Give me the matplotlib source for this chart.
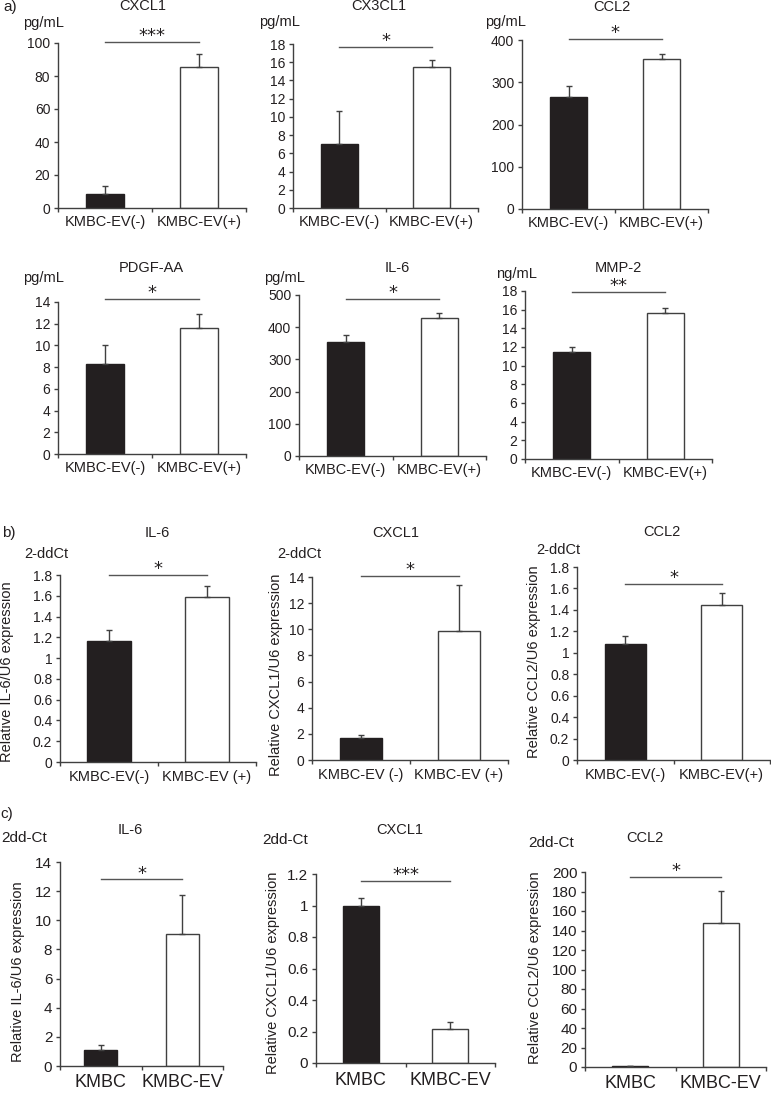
import numpy as np
import matplotlib
matplotlib.use("Agg")
import matplotlib.pyplot as plt
from matplotlib.ticker import FuncFormatter

plt.rcParams['font.family'] = ['Liberation Sans', 'DejaVu Sans']

W, H = 771, 1093

# ---- data ----
groups_ev = ['KMBC-EV(-)', 'KMBC-EV(+)']
groups_ev_sp = ['KMBC-EV(-)', 'KMBC-EV (+)']
groups_ev_sp2 = ['KMBC-EV (-)', 'KMBC-EV (+)']
groups_cell = ['KMBC', 'KMBC-EV']

a_cxcl1 = [8.5, 85.6]
a_cxcl1_err = [5.0, 8.0]
a_cx3cl1 = [7.0, 15.5]
a_cx3cl1_err = [3.7, 0.7]
a_ccl2 = [265, 354]
a_ccl2_err = [25, 14]
a_pdgf = [8.25, 11.6]
a_pdgf_err = [1.75, 1.3]
a_il6 = [354, 428]
a_il6_err = [23, 17]
a_mmp2 = [11.45, 15.6]
a_mmp2_err = [0.5, 0.55]

b_il6 = [1.165, 1.59]
b_il6_err = [0.105, 0.10]
b_cxcl1 = [1.68, 9.85]
b_cxcl1_err = [0.22, 3.55]
b_ccl2 = [1.08, 1.445]
b_ccl2_err = [0.075, 0.115]

c_il6 = [1.1, 9.09]
c_il6_err = [0.34, 2.67]
c_cxcl1 = [1.0, 0.214]
c_cxcl1_err = [0.05, 0.048]
c_ccl2 = [1.0, 148]
c_ccl2_err = [0.0, 33]

BLACK = '#231f20'
EDGE = '#404040'
SIG = '#555555'
FS = 10.5

fig = plt.figure(figsize=(W / 100, H / 100), dpi=100)


def ftext(x, y, s, fontsize=FS, **kw):
    fig.text(x / W, 1 - y / H, s, ha='center', va='center', color=BLACK,
             fontsize=fontsize, **kw)


def draw_panel(box, vals, errs, groups, ymax, ystep, sig_y, stars,
               width=0.4, tick_fs=10, xlab_fs=10.5, xlab_pad=5):
    left, top, right, bottom = box
    ax = fig.add_axes([left / W, 1 - bottom / H, (right - left) / W, (bottom - top) / H])
    ax.patch.set_alpha(0)
    x = [0.5, 1.5]
    ax.bar(x, vals, width=width, color=[BLACK, 'white'], edgecolor=[BLACK, EDGE],
           linewidth=1.0, zorder=2)
    ax.errorbar(x, vals, yerr=[[0, 0], errs], fmt='none', ecolor=EDGE,
                elinewidth=1, capsize=2.2, capthick=1, zorder=3)
    ax.set_xlim(0, 2)
    ax.set_ylim(0, ymax)
    ax.set_yticks(np.arange(0, ymax + ystep / 2, ystep))
    ax.yaxis.set_major_formatter(FuncFormatter(lambda v, p: f'{v:g}'))
    ax.set_xticks([0, 1, 2])
    ax.set_xticklabels([])
    ax.set_xticks(x, minor=True)
    ax.set_xticklabels(groups, minor=True, fontsize=xlab_fs, color=BLACK)
    ax.tick_params(axis='x', which='minor', length=0, pad=xlab_pad)
    ax.tick_params(axis='x', which='major', length=3, width=1, color=EDGE, direction='out')
    ax.tick_params(axis='y', length=3, width=1, color=EDGE, labelsize=tick_fs,
                   labelcolor=BLACK, pad=2.5)
    for s in ['top', 'right']:
        ax.spines[s].set_visible(False)
    for s in ['left', 'bottom']:
        ax.spines[s].set_color(EDGE)
        ax.spines[s].set_linewidth(1)
    ax.plot([0.5, 1.5], [sig_y, sig_y], color=SIG, lw=1, clip_on=False)
    ax.annotate(stars, (1.0, sig_y), xytext=(0, 0.5), textcoords='offset points',
                ha='center', va='baseline', fontsize=13, color=BLACK,
                family='DejaVu Sans', annotation_clip=False)
    return ax


# ---- a) top row ----
draw_panel((58, 43, 246, 208), a_cxcl1, a_cxcl1_err, groups_ev, 100, 20, 100.5, '***')
draw_panel((293, 44, 478, 208), a_cx3cl1, a_cx3cl1_err, groups_ev, 18, 2, 17.7, '*')
draw_panel((522, 40, 708, 209), a_ccl2, a_ccl2_err, groups_ev, 400, 100, 402, '*')
ftext(10, 7, 'a)', fontsize=11)
ftext(143, 6, 'CXCL1')
ftext(379, 6, 'CX3CL1')
ftext(612, 7, 'CCL2')
ftext(43, 23, 'pg/mL')
ftext(279, 22, 'pg/mL')
ftext(505, 22, 'pg/mL')

# ---- a) second row ----
draw_panel((58, 302, 246, 454), a_pdgf, a_pdgf_err, groups_ev, 14, 2, 14.3, '*')
draw_panel((299, 295, 486, 456), a_il6, a_il6_err, groups_ev, 500, 100, 487, '*')
draw_panel((525, 291, 712, 459), a_mmp2, a_mmp2_err, groups_ev, 18, 2, 17.9, '**')
ftext(151, 268, 'PDGF-AA')
ftext(397, 268, 'IL-6')
ftext(618, 268, 'MMP-2')
ftext(43, 278, 'pg/mL')
ftext(284, 278, 'pg/mL')
ftext(516, 274, 'ng/mL')

# ---- b) ----
draw_panel((60, 575, 256, 762), b_il6, b_il6_err, groups_ev_sp, 1.8, 0.2, 1.8, '*',
           width=0.45, xlab_pad=6)
draw_panel((312, 577, 508, 760), b_cxcl1, b_cxcl1_err, groups_ev_sp2, 14, 2, 14.1, '*',
           width=0.42, xlab_pad=6)
draw_panel((577, 567, 770, 760), b_ccl2, b_ccl2_err, groups_ev, 1.8, 0.2, 1.64, '*',
           width=0.42, xlab_pad=6)
ftext(9, 533, 'b)', fontsize=11)
ftext(157, 533, 'IL-6')
ftext(396, 533, 'CXCL1')
ftext(662, 532, 'CCL2')
ftext(46, 554, '2-ddCt')
ftext(299, 554, '2-ddCt')
ftext(558, 550, '2-ddCt')
ftext(7, 672, 'Relative IL-6/U6 expression', fontsize=10.5, rotation=90)
ftext(276, 675, 'Relative CXCL1/U6 expression', fontsize=10.5, rotation=90)
ftext(534, 662, 'Relative CCL2/U6 expression', fontsize=10.5, rotation=90)

# ---- c) ----
draw_panel((60, 862, 223, 1066), c_il6, c_il6_err, groups_cell, 14, 2, 12.8, '*',
           tick_fs=11, xlab_fs=13, xlab_pad=6)
draw_panel((316, 874, 495, 1063), c_cxcl1, c_cxcl1_err, groups_cell, 1.2, 0.2, 1.155, '***',
           tick_fs=11, xlab_fs=13, xlab_pad=6.5)
draw_panel((585, 872, 766, 1067), c_ccl2, c_ccl2_err, groups_cell, 200, 20, 195, '*',
           tick_fs=11, xlab_fs=13, xlab_pad=6)
ftext(7, 814, 'c)', fontsize=11)
ftext(130, 830, 'IL-6')
ftext(400, 830, 'CXCL1')
ftext(645, 838, 'CCL2')
ftext(24, 838, '2dd-Ct', fontsize=11)
ftext(285, 840, '2dd-Ct', fontsize=11)
ftext(551, 843, '2dd-Ct', fontsize=11)
ftext(18, 972, 'Relative IL-6/U6 expression', fontsize=10.5, rotation=90)
ftext(273, 973, 'Relative CXCL1/U6 expression', fontsize=10.5, rotation=90)
ftext(535, 968, 'Relative CCL2/U6 expression', fontsize=10.5, rotation=90)

fig.savefig('out.png', dpi=100)
